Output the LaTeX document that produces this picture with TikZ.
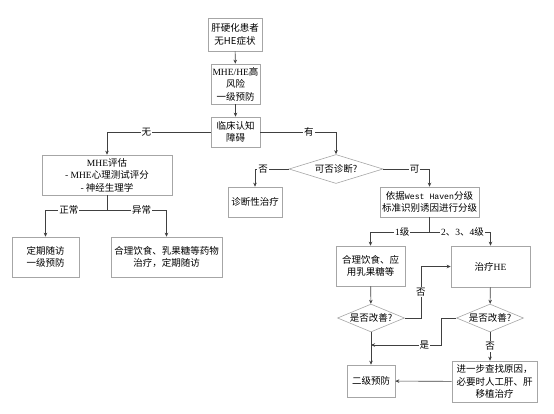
\documentclass[tikz,border=0pt]{standalone}
\usepackage{fontspec}
\setmainfont{Noto Sans CJK SC}
\newfontfamily\lat{Liberation Serif}
\newfontfamily\mono{Liberation Mono}[Scale=0.86]
\usetikzlibrary{arrows.meta,positioning,shapes.geometric,calc}
\tikzset{>={Stealth[length=4pt,width=3.5pt]}}

\begin{document}
\begin{tikzpicture}[
    x=1pt, y=-1pt,
    box/.style={draw=gray!70, line width=0.6pt, fill=white, align=center, inner sep=1pt, font=\fontsize{9.5}{12.5}\selectfont},
    choice/.style={diamond, aspect=2.4, draw=gray!70, line width=0.6pt, inner sep=0.5pt, font=\fontsize{9.5}{12}\selectfont},
    lbl/.style={fill=white, inner sep=1pt, font=\fontsize{9.5}{12}\selectfont},
    conn/.style={draw=black!75, line width=0.6pt},
    flow/.style={conn, ->}
  ]
  \useasboundingbox (0,0) rectangle (554,413);

  % main column
  \node[box, minimum width=54, minimum height=33] (start) at (235,34.5) {肝硬化患者\\无HE症状};
  \node[box, minimum width=49, minimum height=40] (risk) at (235.5,84) {{\lat MHE/HE}高\\风险\\一级预防};
  \node[box, minimum width=49, minimum height=30] (cog) at (235.5,132) {临床认知\\障碍};

  % left branch
  \node[box, minimum width=130, minimum height=40] (mhe) at (107,175) {{\lat MHE}评估\\- {\lat MHE}心理测试评分\\- 神经生理学};
  \node[box, minimum width=67, minimum height=40] (follow) at (45.5,257) {定期随访\\一级预防};
  \node[box, minimum width=111, minimum height=40] (dietA) at (166.5,257) {合理饮食、乳果糖等药物\\治疗，定期随访};

  % right branch
  \node[choice, aspect=3.2, minimum width=94, minimum height=29] (diag) at (336,169) {可否诊断?};
  \node[box, minimum width=54, minimum height=30] (dx) at (255,202) {诊断性治疗};
  \node[box, minimum width=99, minimum height=30] (grade) at (429.5,202) {依据{\mono West Haven}分级\\标准识别诱因进行分级};
  \node[box, minimum width=69, minimum height=40] (dietB) at (370.5,266) {合理饮食、应\\用乳果糖等};
  \node[box, minimum width=79, minimum height=41] (treat) at (490.5,266.5) {治疗{\lat HE}};
  \node[choice] (impA) at (371,318) {是否改善?};
  \node[choice] (impB) at (490,318) {是否改善?};
  \node[box, minimum width=48, minimum height=32] (second) at (371,381) {二级预防};
  \node[box, minimum width=85, minimum height=41] (further) at (494.5,381.5) {进一步查找原因，\\必要时人工肝、肝\\移植治疗};

  % connectors
  \draw[flow] (start) -- (risk);
  \draw[flow] (risk) -- (cog);
  \draw[flow] (cog.west) -| node[lbl, pos=0.31] {无} (mhe.north);
  \draw[flow] (cog.east) -| node[lbl, pos=0.32] {有} (diag.north);
  \draw[flow] (diag.west) -| node[lbl, pos=0.38] {否} (dx.north);
  \draw[flow] (diag.east) -| node[lbl, pos=0.34] {可} (grade.north);

  \coordinate (splitA) at (mhe.south |- 0,210);
  \draw[conn] (mhe.south) -- (splitA);
  \draw[flow] (splitA) -| node[lbl, pos=0.31] {正常} (follow.north);
  \draw[flow] (splitA) -| node[lbl, pos=0.29] {异常} (dietA.north);

  \coordinate (splitB) at (grade.south |- 0,232);
  \draw[conn] (grade.south) -- (splitB);
  \draw[flow] (splitB) -| node[lbl, pos=0.23] {{\lat 1}级} (dietB.north);
  \draw[flow] (splitB) -| node[lbl, pos=0.27] {{\lat 2}、{\lat 3}、{\lat 4}级} (treat.north);

  \draw[flow] (dietB) -- (impA);
  \draw[flow] (treat) -- (impB);
  \draw[flow] (impA.east) -- ++(16,0) |- node[lbl, pos=0.25] {否} (treat.west);

  \coordinate (joinA) at (impA.south |- 0,345);
  \draw[flow] (impB.west) -- ++(-15,0) |- node[lbl, pos=0.62] {是} (joinA);
  \draw[flow] (impA) -- (second);
  \draw[flow] (impB) -- node[lbl] {否} (impB.south |- further.north);
  \draw[flow] (further) -- (second);
\end{tikzpicture}
\end{document}
